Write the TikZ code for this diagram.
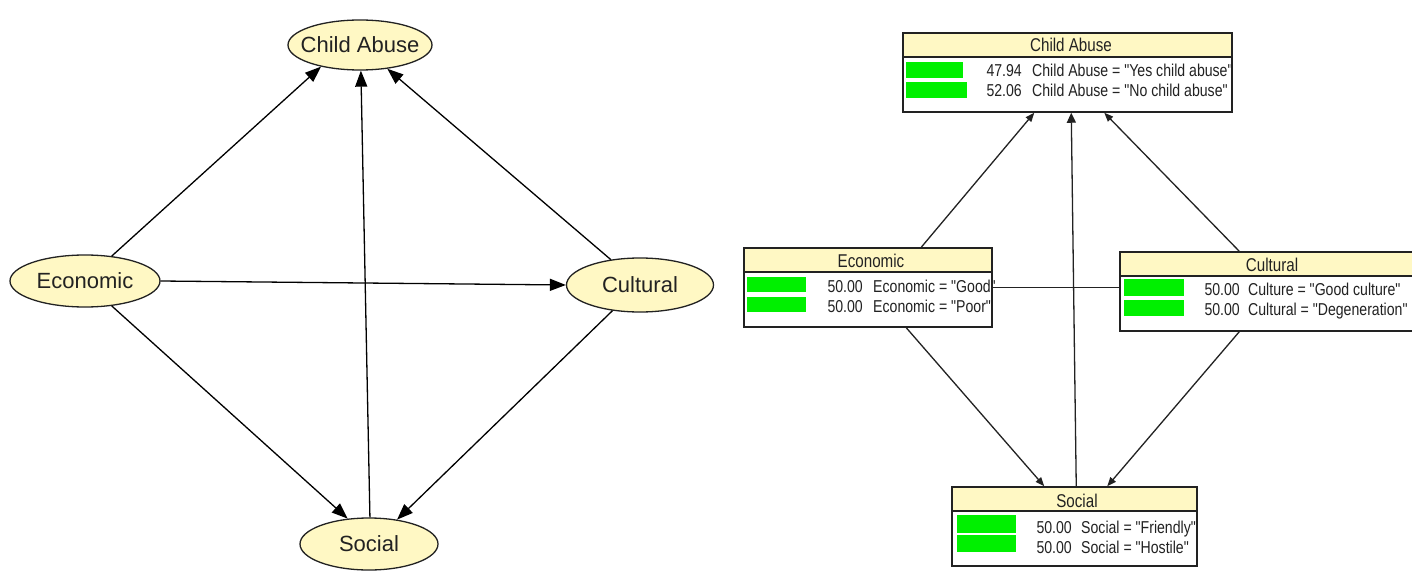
\documentclass[tikz,border=0pt]{standalone}
\usepackage{fontspec}
\setmainfont{Liberation Sans}
\newfontfamily\boxfont[FakeStretch=0.82]{Liberation Sans}
\usetikzlibrary{arrows.meta,shapes.geometric}
\definecolor{nodeyellow}{HTML}{FFF8C4}
\definecolor{bargreen}{HTML}{00F000}
\definecolor{ink}{HTML}{222222}
\newcommand{\elltext}[1]{\makebox[0pt]{#1}}
\tikzset{
  ell/.style={ellipse, draw=ink, line width=1.3pt, fill=nodeyellow, inner sep=0pt,
    font=\fontsize{22}{26}\selectfont, text=ink},
  larrow/.style={draw=black, line width=1.3pt, -{Triangle[length=16pt,width=12pt]}},
  rarrow/.style={draw=ink, line width=1.3pt, -{Triangle[length=9pt,width=7pt]}},
  rline/.style={draw=ink, line width=1.3pt},
  box/.style={rectangle, draw=ink, line width=1.5pt, fill=white, inner sep=0pt,
    minimum height=79pt,
    path picture={
      \fill[nodeyellow] (path picture bounding box.north west) rectangle
        ([yshift=-24pt]path picture bounding box.north east);
      \draw[ink, line width=1.5pt] ([yshift=-24pt]path picture bounding box.north west)
        -- ([yshift=-24pt]path picture bounding box.north east);
    }},
  boxtitle/.style={font=\boxfont\fontsize{18.5}{22}\selectfont, anchor=base, text=ink, inner sep=0pt},
  val/.style={font=\boxfont\fontsize{17.2}{20}\selectfont, text=ink, inner sep=0pt},
  num/.style={val, anchor=base east},
  lab/.style={val, anchor=base west},
  bar/.style={fill=bargreen}
}
\begin{document}
\begin{tikzpicture}[x=1pt,y=-1pt]
\useasboundingbox (0,0) rectangle (1412,580);
\clip (0,0) rectangle (1412,580);
\fill[white] (0,0) rectangle (1412,580);

% ---------- left: graph ----------
\node[ell, minimum width=144pt, minimum height=50pt] (ca) at (360,45) {\elltext{Child Abuse}};
\node[ell, minimum width=150pt, minimum height=52pt] (eco) at (85,281) {\elltext{Economic}};
\node[ell, minimum width=147pt, minimum height=54pt] (cul) at (640,285) {\elltext{Cultural}};
\node[ell, minimum width=138pt, minimum height=52pt] (soc) at (369,544) {\elltext{Social}};

\draw[larrow] (eco.43) -- (ca.209);
\draw[larrow] (eco.east) -- (cul.west);
\draw[larrow] (eco.-43) -- (soc.130);
\draw[larrow] (soc.88) -- (ca.-88);
\draw[larrow] (cul.139) -- (ca.-41);
\draw[larrow] (cul.223) -- (soc.41);

% ---------- right: belief boxes ----------
\node[box, minimum width=329pt] (ca2) at (1067.5,72.5) {};
\node[box, minimum width=248pt] (eco2) at (868,287.5) {};
\node[box, minimum width=304pt] (cul2) at (1272,291.5) {};
\node[box, minimum width=245pt] (soc2) at (1074.5,526.5) {};

% Child Abuse
\node[boxtitle] (ca2t) at (1071,52) {Child Abuse};
\fill[bar] (906,62) rectangle (963,78);
\fill[bar] (906,82) rectangle (967,98);
\node[num] (ca2n1) at (1022,77) {47.94};
\node[lab] (ca2l1) at (1032,77) {Child Abuse = "Yes child abuse"};
\node[num] (ca2n2) at (1022,97) {52.06};
\node[lab] (ca2l2) at (1032,97) {Child Abuse = "No child abuse"};

% Economic
\node[boxtitle] (eco2t) at (871,267) {Economic};
\fill[bar] (747,277) rectangle (806,292);
\fill[bar] (747,297) rectangle (806,312);
\node[num] (eco2n1) at (863,292) {50.00};
\node[lab] (eco2l1) at (873,292) {Economic = "Good"};
\node[num] (eco2n2) at (863,312) {50.00};
\node[lab] (eco2l2) at (873,312) {Economic = "Poor"};

% Cultural
\node[boxtitle] (cul2t) at (1272,271) {Cultural};
\fill[bar] (1124,279) rectangle (1184,296);
\fill[bar] (1124,300) rectangle (1184,316);
\node[num] (cul2n1) at (1240,295) {50.00};
\node[lab] (cul2l1) at (1248,295) {Culture = "Good culture"};
\node[num] (cul2n2) at (1240,315) {50.00};
\node[lab] (cul2l2) at (1248,315) {Cultural = "Degeneration"};

% Social
\node[boxtitle] (soc2t) at (1077,507) {Social};
\fill[bar] (957,515) rectangle (1016,533);
\fill[bar] (957,535) rectangle (1016,552);
\node[num] (soc2n1) at (1072,533) {50.00};
\node[lab] (soc2l1) at (1081,533) {Social = "Friendly"};
\node[num] (soc2n2) at (1072,553) {50.00};
\node[lab] (soc2l2) at (1081,553) {Social = "Hostile"};

% right connectors
\draw[rarrow] ([xshift=178pt]eco2.north west) -- ([xshift=132pt]ca2.south west);
\draw[rarrow, -{Triangle[length=10pt,width=9pt]}] ([xshift=125pt]soc2.north west) -- ([xshift=169pt]ca2.south west);
\draw[rarrow] ([xshift=120pt]cul2.north west) -- ([xshift=202pt]ca2.south west);
\draw[rarrow] ([xshift=163pt]eco2.south west) -- ([xshift=93pt]soc2.north west);
\draw[rarrow] ([xshift=120pt]cul2.south west) -- ([xshift=156pt]soc2.north west);
\draw[rline] (eco2.east) -- (eco2.east -| cul2.west);
\end{tikzpicture}
\end{document}
